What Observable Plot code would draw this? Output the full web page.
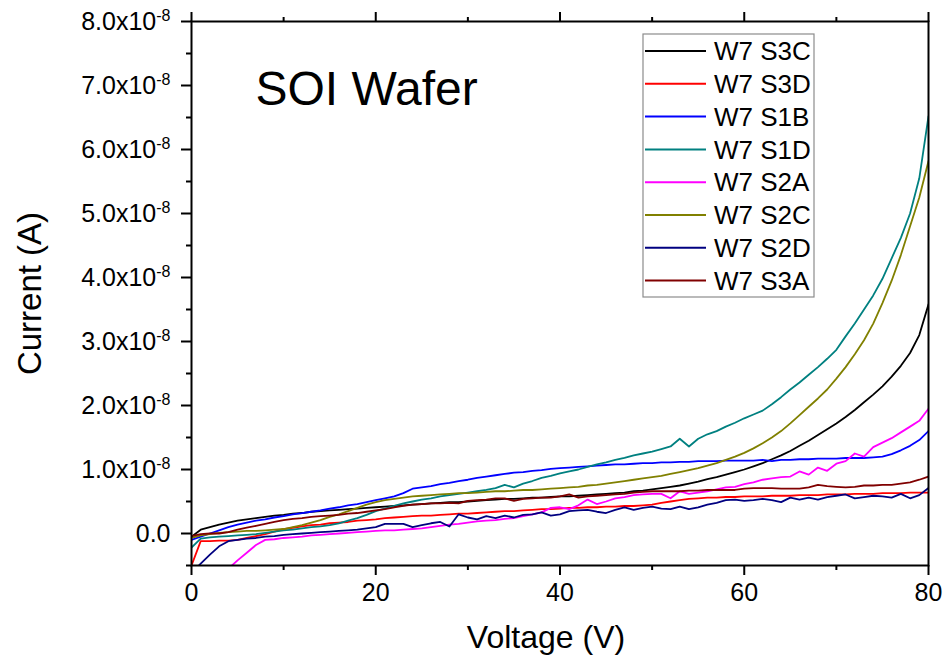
<!DOCTYPE html>
<html><head><meta charset="utf-8">
<script src="https://cdn.jsdelivr.net/npm/d3@7"></script>
<script src="https://cdn.jsdelivr.net/npm/@observablehq/plot@0.6"></script>
<style>body{margin:0;background:#fff}#chart{width:948px;height:656px}</style>
</head><body><div id="chart"></div>
<script>
// Voltage grid (V)
const voltage = d3.range(0, 81);
// Currents in units of 1e-8 A
const seriesNames = ["W7 S3C","W7 S3D","W7 S1B","W7 S1D","W7 S2A","W7 S2C","W7 S2D","W7 S3A"];
const seriesColors = ["#000000","#ff0000","#0000ff","#008080","#ff00ff","#808000","#000080","#800000"];
const s3c = [-0.05,0.06,0.1,0.14,0.17,0.2,0.22,0.24,0.26,0.28,
0.29,0.31,0.32,0.34,0.35,0.36,0.37,0.38,0.39,0.4,
0.41,0.42,0.43,0.44,0.45,0.46,0.47,0.48,0.49,0.49,
0.5,0.51,0.52,0.53,0.54,0.54,0.55,0.56,0.56,0.57,
0.58,0.58,0.59,0.6,0.61,0.62,0.63,0.64,0.66,0.67,
0.69,0.71,0.73,0.75,0.78,0.81,0.85,0.88,0.92,0.96,
1.0,1.05,1.1,1.16,1.22,1.29,1.37,1.45,1.54,1.63,
1.72,1.82,1.93,2.05,2.17,2.3,2.45,2.62,2.82,3.1,
3.58];
const s3d = [-0.5,-0.12,-0.12,-0.11,-0.11,-0.1,-0.07,-0.04,-0.01,0.03,
0.07,0.09,0.11,0.13,0.14,0.16,0.17,0.18,0.2,0.21,
0.22,0.24,0.25,0.26,0.27,0.28,0.28,0.29,0.3,0.31,
0.31,0.32,0.33,0.34,0.35,0.35,0.36,0.37,0.38,0.38,
0.39,0.4,0.4,0.41,0.41,0.42,0.42,0.43,0.43,0.44,
0.45,0.48,0.5,0.52,0.54,0.55,0.56,0.56,0.57,0.57,
0.58,0.58,0.58,0.59,0.59,0.59,0.6,0.6,0.6,0.61,
0.61,0.61,0.62,0.62,0.62,0.63,0.63,0.63,0.64,0.64,
0.64];
const s1b = [-0.1,-0.05,0.0,0.05,0.1,0.14,0.17,0.2,0.22,0.25,
0.27,0.3,0.32,0.34,0.36,0.39,0.41,0.44,0.46,0.49,
0.52,0.55,0.58,0.63,0.7,0.72,0.74,0.77,0.79,0.82,
0.84,0.87,0.89,0.91,0.93,0.95,0.96,0.98,0.99,1.01,
1.02,1.03,1.04,1.05,1.06,1.07,1.08,1.08,1.09,1.1,
1.1,1.11,1.11,1.12,1.12,1.13,1.13,1.13,1.14,1.14,
1.14,1.14,1.15,1.13,1.15,1.15,1.16,1.16,1.17,1.17,
1.17,1.18,1.18,1.18,1.19,1.2,1.24,1.3,1.37,1.46,
1.6];
const s1d = [-0.22,-0.08,-0.06,-0.05,-0.04,-0.03,-0.02,-0.01,0.01,0.03,
0.05,0.06,0.08,0.1,0.11,0.13,0.16,0.2,0.24,0.29,
0.35,0.39,0.43,0.47,0.5,0.53,0.55,0.58,0.6,0.62,
0.64,0.66,0.68,0.71,0.76,0.72,0.78,0.82,0.87,0.9,
0.94,0.97,1.0,1.04,1.08,1.11,1.15,1.18,1.22,1.25,
1.28,1.32,1.36,1.48,1.36,1.48,1.55,1.6,1.67,1.73,
1.8,1.86,1.92,2.02,2.13,2.25,2.36,2.48,2.6,2.73,
2.87,3.08,3.28,3.5,3.72,3.98,4.3,4.62,5.0,5.55,
6.52];
const s2a = [-1.0,-0.9,-0.78,-0.66,-0.55,-0.42,-0.3,-0.18,-0.1,-0.09,
-0.07,-0.06,-0.05,-0.03,-0.02,-0.01,0.0,0.01,0.02,0.03,
0.04,0.05,0.05,0.06,0.07,0.08,0.1,0.12,0.14,0.15,
0.17,0.19,0.2,0.21,0.23,0.24,0.27,0.3,0.33,0.4,
0.41,0.38,0.44,0.53,0.46,0.5,0.55,0.57,0.6,0.61,
0.62,0.62,0.55,0.66,0.62,0.64,0.66,0.69,0.72,0.73,
0.77,0.8,0.84,0.86,0.88,0.89,0.97,0.92,1.03,0.98,
1.09,1.13,1.25,1.2,1.35,1.42,1.49,1.58,1.67,1.76,
1.95];
const s2c = [-0.07,-0.03,-0.01,0.01,0.02,0.03,0.04,0.04,0.05,0.06,
0.07,0.1,0.13,0.17,0.21,0.26,0.3,0.35,0.4,0.45,
0.49,0.52,0.54,0.56,0.58,0.59,0.6,0.61,0.62,0.63,
0.63,0.64,0.65,0.66,0.66,0.67,0.68,0.68,0.69,0.7,
0.71,0.72,0.73,0.75,0.76,0.78,0.8,0.82,0.84,0.86,
0.88,0.9,0.93,0.96,0.99,1.02,1.06,1.1,1.15,1.2,
1.26,1.33,1.41,1.5,1.6,1.72,1.85,1.98,2.11,2.25,
2.42,2.6,2.8,3.02,3.28,3.6,3.95,4.35,4.8,5.25,
5.82];
const s2d = [-0.62,-0.47,-0.33,-0.2,-0.12,-0.1,-0.08,-0.07,-0.05,-0.04,
-0.02,-0.01,0.0,0.01,0.02,0.03,0.04,0.05,0.06,0.08,
0.1,0.15,0.15,0.15,0.1,0.13,0.16,0.18,0.11,0.3,
0.25,0.22,0.27,0.24,0.28,0.25,0.29,0.3,0.33,0.28,
0.3,0.35,0.36,0.37,0.34,0.32,0.37,0.41,0.37,0.4,
0.42,0.39,0.38,0.42,0.38,0.41,0.45,0.48,0.52,0.53,
0.51,0.52,0.54,0.52,0.49,0.56,0.53,0.56,0.53,0.57,
0.59,0.61,0.55,0.57,0.59,0.58,0.56,0.62,0.55,0.6,
0.71];
const s3a = [-0.04,-0.01,0.0,0.0,0.02,0.06,0.09,0.12,0.15,0.18,
0.21,0.23,0.24,0.26,0.27,0.28,0.29,0.31,0.32,0.34,
0.36,0.38,0.41,0.43,0.45,0.46,0.47,0.47,0.48,0.47,
0.51,0.52,0.53,0.55,0.55,0.51,0.54,0.55,0.56,0.56,
0.58,0.61,0.56,0.58,0.59,0.6,0.61,0.62,0.64,0.65,
0.66,0.66,0.66,0.66,0.67,0.67,0.68,0.68,0.68,0.68,
0.7,0.71,0.71,0.71,0.7,0.7,0.7,0.72,0.76,0.74,
0.73,0.72,0.73,0.75,0.75,0.76,0.76,0.78,0.8,0.84,
0.89];
const seriesValues = [s3c, s3d, s1b, s1d, s2a, s2c, s2d, s3a];

const xTicks = [0, 20, 40, 60, 80];
const xMinorTicks = [10, 30, 50, 70];
const yTicks = [0, 1, 2, 3, 4, 5, 6, 7, 8];
const yTickLabels = ["0.0","1.0x10","2.0x10","3.0x10","4.0x10","5.0x10","6.0x10","7.0x10","8.0x10"];
const yTickExponent = "-8";
const yMinorTicks = [-0.5, 0.5, 1.5, 2.5, 3.5, 4.5, 5.5, 6.5, 7.5];
const xTitle = "Voltage (V)";
const yTitle = "Current (A)";
const chartTitle = "SOI Wafer";

const rows = [];
seriesNames.forEach((name, i) => {
  seriesValues[i].forEach((v, j) => rows.push({V: voltage[j], I: v, series: name}));
});

const FONT = "'Liberation Sans', Arial, sans-serif";
const plot = Plot.plot({
  width: 948, height: 656,
  marginLeft: 191, marginRight: 20, marginTop: 21, marginBottom: 91,
  style: {fontFamily: FONT, fontSize: "25px", color: "#000", background: "#fff"},
  x: {domain: [0, 80]},
  y: {domain: [-0.5, 8]},
  color: {domain: seriesNames, range: seriesColors},
  marks: [
    Plot.line(rows, {x: "V", y: "I", z: "series", stroke: "series", strokeWidth: 1.8, clip: true}),
    Plot.frame({stroke: "#000", strokeWidth: 2}),
    Plot.axisY({ticks: yTicks, tickSize: 10, tickPadding: 11, strokeWidth: 2, label: null,
      fontSize: 25, tickFormat: d => yTickLabels[yTicks.indexOf(d)]}),
    Plot.axisY({ticks: yMinorTicks, tickSize: 5, strokeWidth: 2, label: null, tickFormat: () => ""}),
    Plot.axisX({ticks: xTicks, tickSize: 10, tickPadding: 8, strokeWidth: 2, label: null, fontSize: 25}),
    Plot.axisX({ticks: xMinorTicks, tickSize: 5, strokeWidth: 2, label: null, tickFormat: () => ""}),
    Plot.axisX({anchor: "top", ticks: xTicks, tickSize: 10, strokeWidth: 2, label: null, tickFormat: () => ""}),
    Plot.axisX({anchor: "top", ticks: xMinorTicks, tickSize: 5, strokeWidth: 2, label: null, tickFormat: () => ""}),
    Plot.text([xTitle], {text: d => d, frameAnchor: "bottom", dx: -14, dy: 72, fontSize: 32, textAnchor: "middle", lineAnchor: "middle"}),
    Plot.text([yTitle], {text: d => d, frameAnchor: "left", rotate: -90, dx: -161, fontSize: 33, textAnchor: "middle", lineAnchor: "middle"}),
    Plot.text([chartTitle], {text: d => d, frameAnchor: "top-left", dx: 64, dy: 68, textAnchor: "start", lineAnchor: "middle", fontSize: 48})
  ]
});
document.getElementById("chart").appendChild(plot);

// superscript exponents on y tick labels
const svg = d3.select(plot.tagName.toLowerCase() === "svg" ? plot : plot.querySelector("svg"));
svg.selectAll('[aria-label="y-axis tick label"] text').each(function() {
  const t = d3.select(this);
  const s = t.text();
  if (s && s !== "0.0") {
    t.append("tspan").attr("dy", "-0.55em").attr("font-size", 16).text(yTickExponent);
  }
});

// legend
const lg = svg.append("g").attr("font-family", FONT).attr("font-size", 26).attr("text-anchor", "start");
lg.append("rect").attr("x", 643).attr("y", 34).attr("width", 171).attr("height", 263)
  .attr("fill", "#fff").attr("stroke", "#8c8c8c").attr("stroke-width", 1.2);
seriesNames.forEach((name, i) => {
  const y = 51 + 32.8 * i;
  lg.append("line").attr("x1", 645).attr("x2", 706).attr("y1", y).attr("y2", y)
    .attr("stroke", seriesColors[i]).attr("stroke-width", 2);
  lg.append("text").attr("x", 714).attr("y", y).attr("dy", "0.35em").attr("fill", "#000").text(name);
});
</script></body></html>
